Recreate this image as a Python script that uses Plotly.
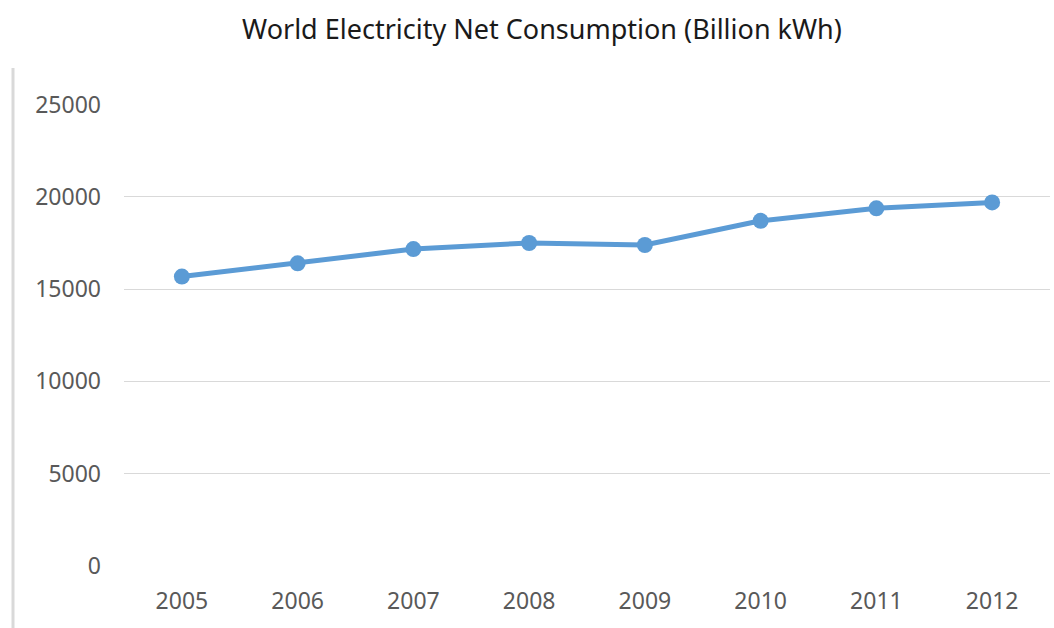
import plotly.graph_objects as go

years = ["2005", "2006", "2007", "2008", "2009", "2010", "2011", "2012"]
consumption = [15680, 16400, 17170, 17500, 17390, 18700, 19380, 19700]
y_ticks = [0, 5000, 10000, 15000, 20000, 25000]
y_labels = ["0", "5000", "10000", "15000", "20000", "25000"]

W, H = 1054, 628
L, R, T, B = 124, 4, 104, 62
pw, ph = W - L - R, H - T - B

fig = go.Figure()
fig.add_trace(go.Scatter(
    x=years, y=consumption, mode="lines+markers",
    line=dict(color="#5b9bd5", width=5),
    marker=dict(color="#5b9bd5", size=16),
    showlegend=False, hoverinfo="x+y",
))

fig.update_layout(
    width=W, height=H,
    margin=dict(l=L, r=R, t=T, b=B),
    paper_bgcolor="white", plot_bgcolor="white",
    title=dict(text="World Electricity Net Consumption (Billion kWh)",
               x=542 / W, xanchor="center", y=1 - 30 / H, yanchor="middle",
               font=dict(family="Noto Sans", size=27, color="#1a1a1a")),
    font=dict(family="Noto Sans", color="#595959", size=23),
    xaxis=dict(type="category", range=[-0.5, 7.5], showgrid=False,
               showline=False, zeroline=False, ticks="",
               ticklabelstandoff=19, tickfont=dict(size=23, color="#595959")),
    yaxis=dict(range=[0, 25030], tickvals=y_ticks, ticktext=y_labels,
               showgrid=True, gridcolor="#d9d9d9", gridwidth=1.3,
               zeroline=False, showline=False, ticks="",
               ticklabelstandoff=22, tickfont=dict(size=23, color="#595959")),
    shapes=[dict(type="line", xref="paper", yref="paper",
                 x0=(13 - L) / pw, x1=(13 - L) / pw,
                 y0=(H - B - 68) / ph, y1=-B / ph - 0.01,
                 line=dict(color="#d9d9d9", width=3))],
)

fig.write_html("out.html")
